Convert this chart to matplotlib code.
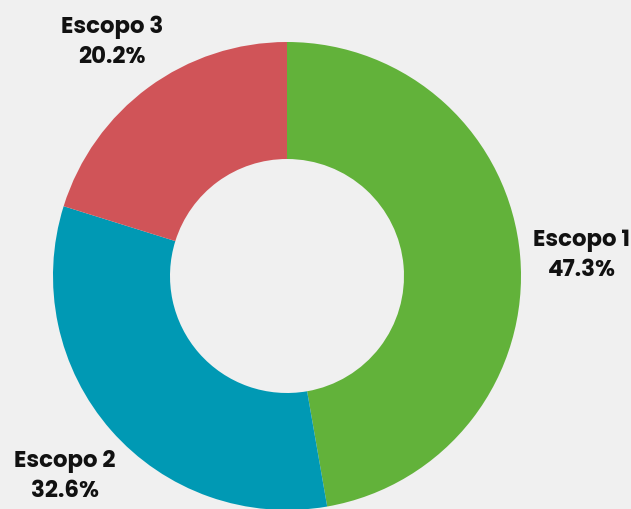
import matplotlib
matplotlib.use("Agg")
import matplotlib.pyplot as plt
import numpy as np

categorias = ["Escopo 1", "Escopo 2", "Escopo 3"]
percentuais = [47.3, 32.6, 20.2]
cores = ["#62b23a", "#0099b4", "#d05458"]

FUNDO = "#f0f0f0"

fig = plt.figure(figsize=(6.31, 5.09), dpi=100, facecolor=FUNDO)
ax = fig.add_axes([0, 0, 1, 1])
ax.set_facecolor(FUNDO)

wedges, _ = ax.pie(
    percentuais,
    colors=cores,
    startangle=90,
    counterclock=False,
    radius=1.0,
    wedgeprops=dict(width=0.5, linewidth=0),
)

# rotulos fora do anel, no angulo medio de cada fatia
for w, nome, pct in zip(wedges, categorias, percentuais):
    ang = np.deg2rad((w.theta1 + w.theta2) / 2)
    r = 1.265
    ax.text(
        r * np.cos(ang),
        r * np.sin(ang) - 0.022,
        f"{nome}\n{pct:.1f}%",
        ha="center",
        va="center",
        fontsize=16.5,
        fontweight="bold",
        color="#111111",
        linespacing=1.42,
        family=["Poppins", "Open Sans", "DejaVu Sans"],
    )

ax.set_xlim(-287 / 234, (631 - 287) / 234)
ax.set_ylim(-(509 - 276) / 234, 276 / 234)
ax.set_aspect("auto")
ax.axis("off")

fig.savefig("out.png", dpi=100, facecolor=FUNDO)
